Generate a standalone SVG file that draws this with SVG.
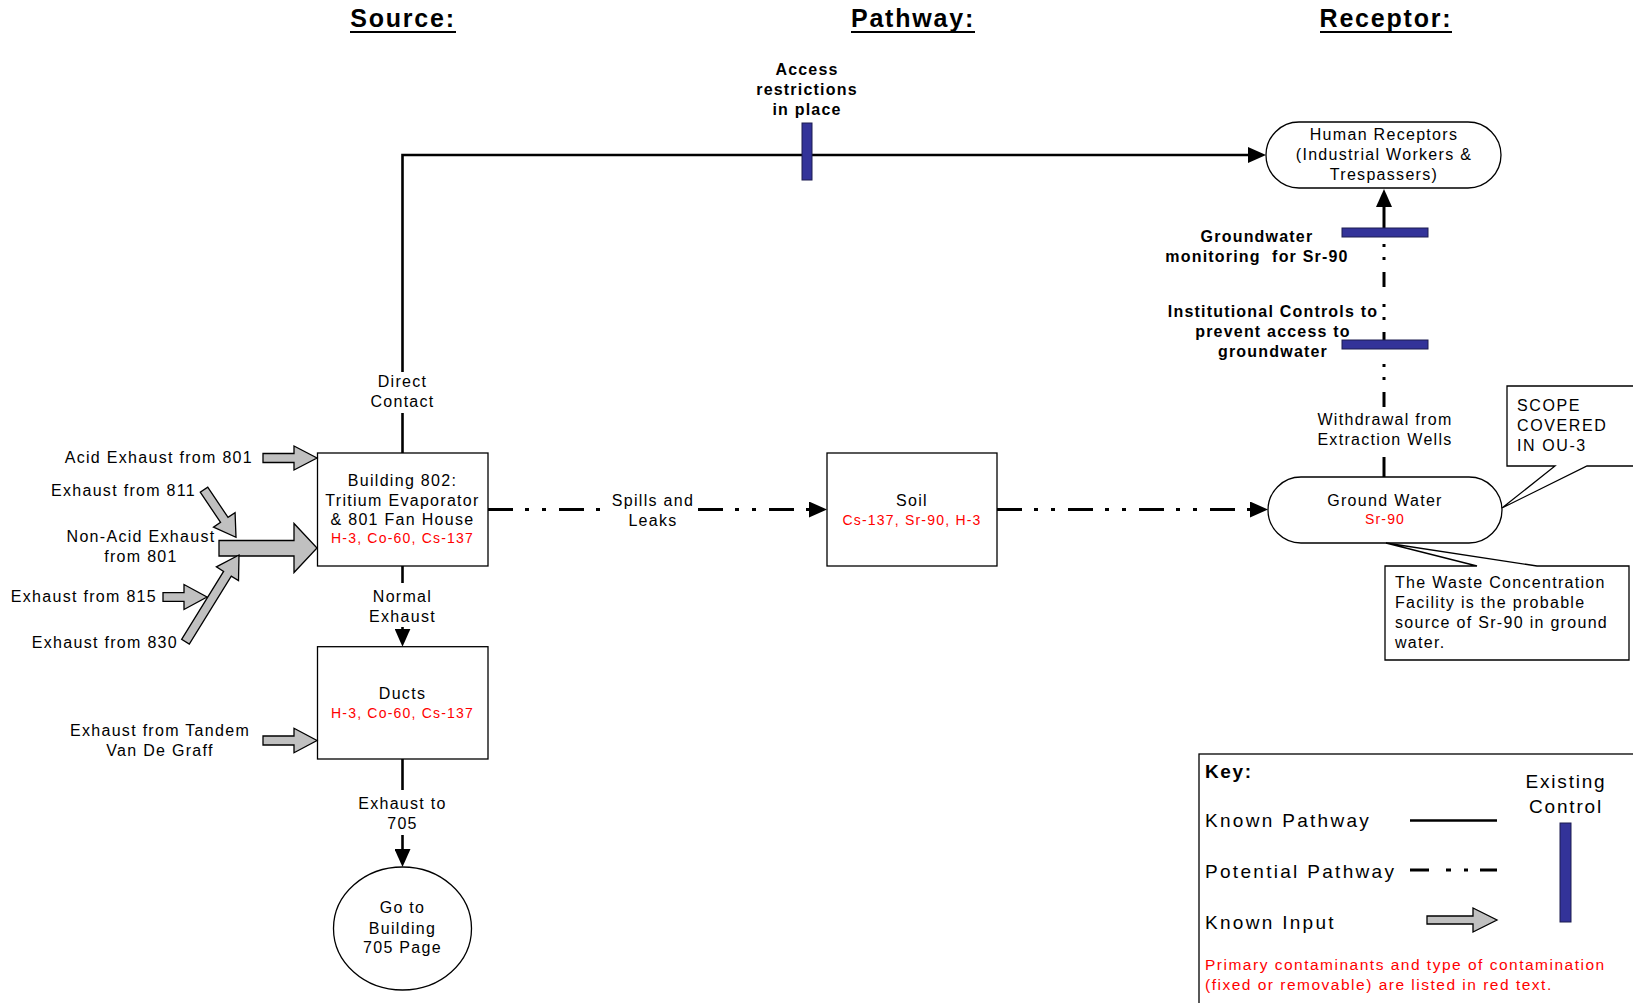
<svg xmlns="http://www.w3.org/2000/svg" width="1633" height="1003" viewBox="0 0 1633 1003">
<style>
.t{font-family:"Liberation Sans",Arial,sans-serif;font-size:16px;letter-spacing:1.3px;fill:#000}
.c{text-anchor:middle}
.e{text-anchor:end}
.red{fill:#ff0000;font-size:14px;letter-spacing:1.2px}
.b{font-weight:bold;letter-spacing:1.2px}
.title{font-weight:bold;font-size:25px;letter-spacing:1.8px}
.lg{font-size:19px;letter-spacing:2.3px}
.lr{fill:#ff0000;font-size:15.5px;letter-spacing:1.5px}
.box{fill:#fff;stroke:#000;stroke-width:1.3}
.known{fill:none;stroke:#000;stroke-width:2.6}
.pot{fill:none;stroke:#000;stroke-width:3;stroke-dasharray:25 12 4 13 4 13}
.potv{fill:none;stroke:#000;stroke-width:3;stroke-dasharray:15 12 3 10 3 17}
.ctrl{fill:#333399;stroke:#1c1c50;stroke-width:1}
.input{fill:#c0c0c0;stroke:#000;stroke-width:1.3;stroke-linejoin:miter}
.ul{stroke:#000;stroke-width:2}
</style>
<defs>
<marker id="ah" markerUnits="userSpaceOnUse" markerWidth="18" markerHeight="16" refX="10" refY="8" orient="auto">
<path d="M0,0 L18,8 L0,16 z" fill="#000"/>
</marker>
</defs>
<rect width="1633" height="1003" fill="#fff"/>

<g id="titles">
<text class="t title c" x="403" y="27">Source:</text>
<line class="ul" x1="350" y1="32" x2="456" y2="32"/>
<text class="t title c" x="913" y="27">Pathway:</text>
<line class="ul" x1="851" y1="32" x2="975" y2="32"/>
<text class="t title c" x="1386" y="27">Receptor:</text>
<line class="ul" x1="1320" y1="32" x2="1452" y2="32"/>
</g>

<g id="connectors">
<path class="known" d="M402.5,453 V413"/>
<path class="known" d="M402.5,372 V155 H1258" marker-end="url(#ah)"/>
<path class="known" d="M402.5,566 V583"/>
<path class="known" d="M402.5,627 V638.7" marker-end="url(#ah)"/>
<path class="known" d="M402.5,759 V790"/>
<path class="known" d="M402.5,835 V859" marker-end="url(#ah)"/>
<path class="pot" d="M488,509.5 H600"/>
<path class="pot" d="M698,509.5 H819" marker-end="url(#ah)"/>
<path class="pot" d="M997,509.5 H1260" marker-end="url(#ah)"/>
<path class="known" d="M1384,477 V457" style="stroke-width:3"/>
<path class="potv" d="M1384,407 V237"/>
<path class="known" d="M1384,237 V197" style="stroke-width:3" marker-end="url(#ah)"/>
</g>

<g id="connector-labels">
<text class="t c" x="402.5" y="386.5">Direct</text>
<text class="t c" x="402.5" y="406.5">Contact</text>
<text class="t c" x="402.5" y="601.5">Normal</text>
<text class="t c" x="402.5" y="621.5">Exhaust</text>
<text class="t c" x="402.5" y="809">Exhaust to</text>
<text class="t c" x="402.5" y="829">705</text>
<text class="t c" x="653" y="506">Spills and</text>
<text class="t c" x="653" y="525.5">Leaks</text>
<text class="t c" x="1385" y="425">Withdrawal from</text>
<text class="t c" x="1385" y="445">Extraction Wells</text>
</g>

<g id="control-access">
<rect class="ctrl" x="802" y="123" width="10" height="57"/>
<text class="t b c" x="807" y="74.5">Access</text>
<text class="t b c" x="807" y="94.5">restrictions</text>
<text class="t b c" x="807" y="114.5">in place</text>
</g>

<g id="control-monitoring">
<rect class="ctrl" x="1342" y="228" width="86" height="9"/>
<text class="t b c" x="1257" y="241.5">Groundwater</text>
<text class="t b c" x="1257" y="261.5" xml:space="preserve">monitoring  for Sr-90</text>
</g>

<g id="control-institutional">
<rect class="ctrl" x="1342" y="340" width="86" height="9"/>
<text class="t b c" x="1273" y="316.5">Institutional Controls to</text>
<text class="t b c" x="1273" y="336.5">prevent access to</text>
<text class="t b c" x="1273" y="356.5">groundwater</text>
</g>

<g id="building802">
<rect class="box" x="317.5" y="453" width="170.5" height="113"/>
<text class="t c" x="402.5" y="486">Building 802:</text>
<text class="t c" x="402.5" y="505.5">Tritium Evaporator</text>
<text class="t c" x="402.5" y="525">&amp; 801 Fan House</text>
<text class="t red c" x="402.5" y="543">H-3, Co-60, Cs-137</text>
</g>

<g id="ducts">
<rect class="box" x="317.5" y="646.7" width="170.5" height="112.3"/>
<text class="t c" x="402.5" y="699">Ducts</text>
<text class="t red c" x="402.5" y="717.5">H-3, Co-60, Cs-137</text>
</g>

<g id="goto705">
<ellipse class="box" cx="402.5" cy="928.5" rx="69" ry="61.5"/>
<text class="t c" x="402.5" y="913">Go to</text>
<text class="t c" x="402.5" y="933.5">Building</text>
<text class="t c" x="402.5" y="953">705 Page</text>
</g>

<g id="soil">
<rect class="box" x="827" y="453" width="170" height="113"/>
<text class="t c" x="912" y="506">Soil</text>
<text class="t red c" x="912" y="524.5">Cs-137, Sr-90, H-3</text>
</g>

<g id="human-receptors">
<rect class="box" x="1266" y="122" width="235" height="66" rx="33" ry="33"/>
<text class="t c" x="1384" y="140">Human Receptors</text>
<text class="t c" x="1384" y="160">(Industrial Workers &amp;</text>
<text class="t c" x="1384" y="180">Trespassers)</text>
</g>

<g id="ground-water">
<rect class="box" x="1268" y="477" width="234" height="66" rx="33" ry="33"/>
<text class="t c" x="1385" y="505.5">Ground Water</text>
<text class="t red c" x="1385" y="524">Sr-90</text>
</g>

<g id="callout-scope">
<path class="box" d="M1555,466 H1507 V386 H1640 V466 H1587 L1502,508 Z"/>
<text class="t" x="1517" y="410.5" style="letter-spacing:1.6px">SCOPE</text>
<text class="t" x="1517" y="430.5" style="letter-spacing:1.6px">COVERED</text>
<text class="t" x="1517" y="450.5" style="letter-spacing:1.6px">IN OU-3</text>
</g>

<g id="callout-waste">
<path class="box" d="M1477,566 H1385 V660 H1629 V566 H1537 L1386,543 Z"/>
<text class="t" x="1395" y="587.5">The Waste Concentration</text>
<text class="t" x="1395" y="607.5">Facility is the probable</text>
<text class="t" x="1395" y="628">source of Sr-90 in ground</text>
<text class="t" x="1395" y="648">water.</text>
</g>

<g id="input-acid801">
<polygon class="input" points="263,453.5 294,453.5 294,446 317,458 294,470 294,462.5 263,462.5"/>
<text class="t e" x="253" y="463">Acid Exhaust from 801</text>
</g>

<g id="input-811">
<polygon class="input" transform="translate(236,537.3) rotate(56.1)" points="-57.4,-4.5 -21,-4.5 -21,-13 0,0 -21,13 -21,4.5 -57.4,4.5"/>
<text class="t e" x="196" y="496">Exhaust from 811</text>
</g>

<g id="input-nonacid801">
<polygon class="input" points="219,540.5 294,540.5 294,523.5 317,548 294,572.5 294,556 219,556"/>
<text class="t c" x="141" y="541.5">Non-Acid Exhaust</text>
<text class="t c" x="141" y="561.5">from 801</text>
</g>

<g id="input-830">
<polygon class="input" transform="translate(239,555) rotate(-58.3)" points="-101.9,-4.5 -22,-4.5 -22,-13 0,0 -22,13 -22,4.5 -101.9,4.5"/>
<text class="t e" x="178" y="648">Exhaust from 830</text>
</g>

<g id="input-815">
<polygon class="input" points="163,592.7 184,592.7 184,584.5 207,597 184,609.5 184,601.3 163,601.3"/>
<text class="t e" x="157" y="601.5">Exhaust from 815</text>
</g>

<g id="input-tandem">
<polygon class="input" points="263,736 294,736 294,728.3 317,740.5 294,752.7 294,745 263,745"/>
<text class="t c" x="160" y="736">Exhaust from Tandem</text>
<text class="t c" x="160" y="756">Van De Graff</text>
</g>

<g id="key">
<rect x="1199" y="754" width="500" height="300" fill="#fff" stroke="#000" stroke-width="1.3"/>
<text class="t b" x="1205" y="777.5" style="font-size:19px;letter-spacing:1.6px">Key:</text>
<text class="t lg" x="1205" y="827">Known Pathway</text>
<path class="known" d="M1410,820.5 H1497"/>
<text class="t lg" x="1205" y="877.5">Potential Pathway</text>
<path d="M1410,870 H1497" fill="none" stroke="#000" stroke-width="3" stroke-dasharray="19 17 5 13 4 12"/>
<text class="t lg" x="1205" y="929">Known Input</text>
<polygon class="input" points="1427,916 1473,916 1473,908 1497,920 1473,932 1473,924 1427,924"/>
<text class="t lg c" x="1566" y="787.5" style="letter-spacing:1.8px">Existing</text>
<text class="t lg c" x="1566" y="812.5" style="letter-spacing:1.8px">Control</text>
<rect class="ctrl" x="1560" y="823" width="11" height="99"/>
<text class="t lr" x="1205" y="970">Primary contaminants and type of contamination</text>
<text class="t lr" x="1205" y="989.5">(fixed or removable) are listed in red text.</text>
</g>
</svg>
